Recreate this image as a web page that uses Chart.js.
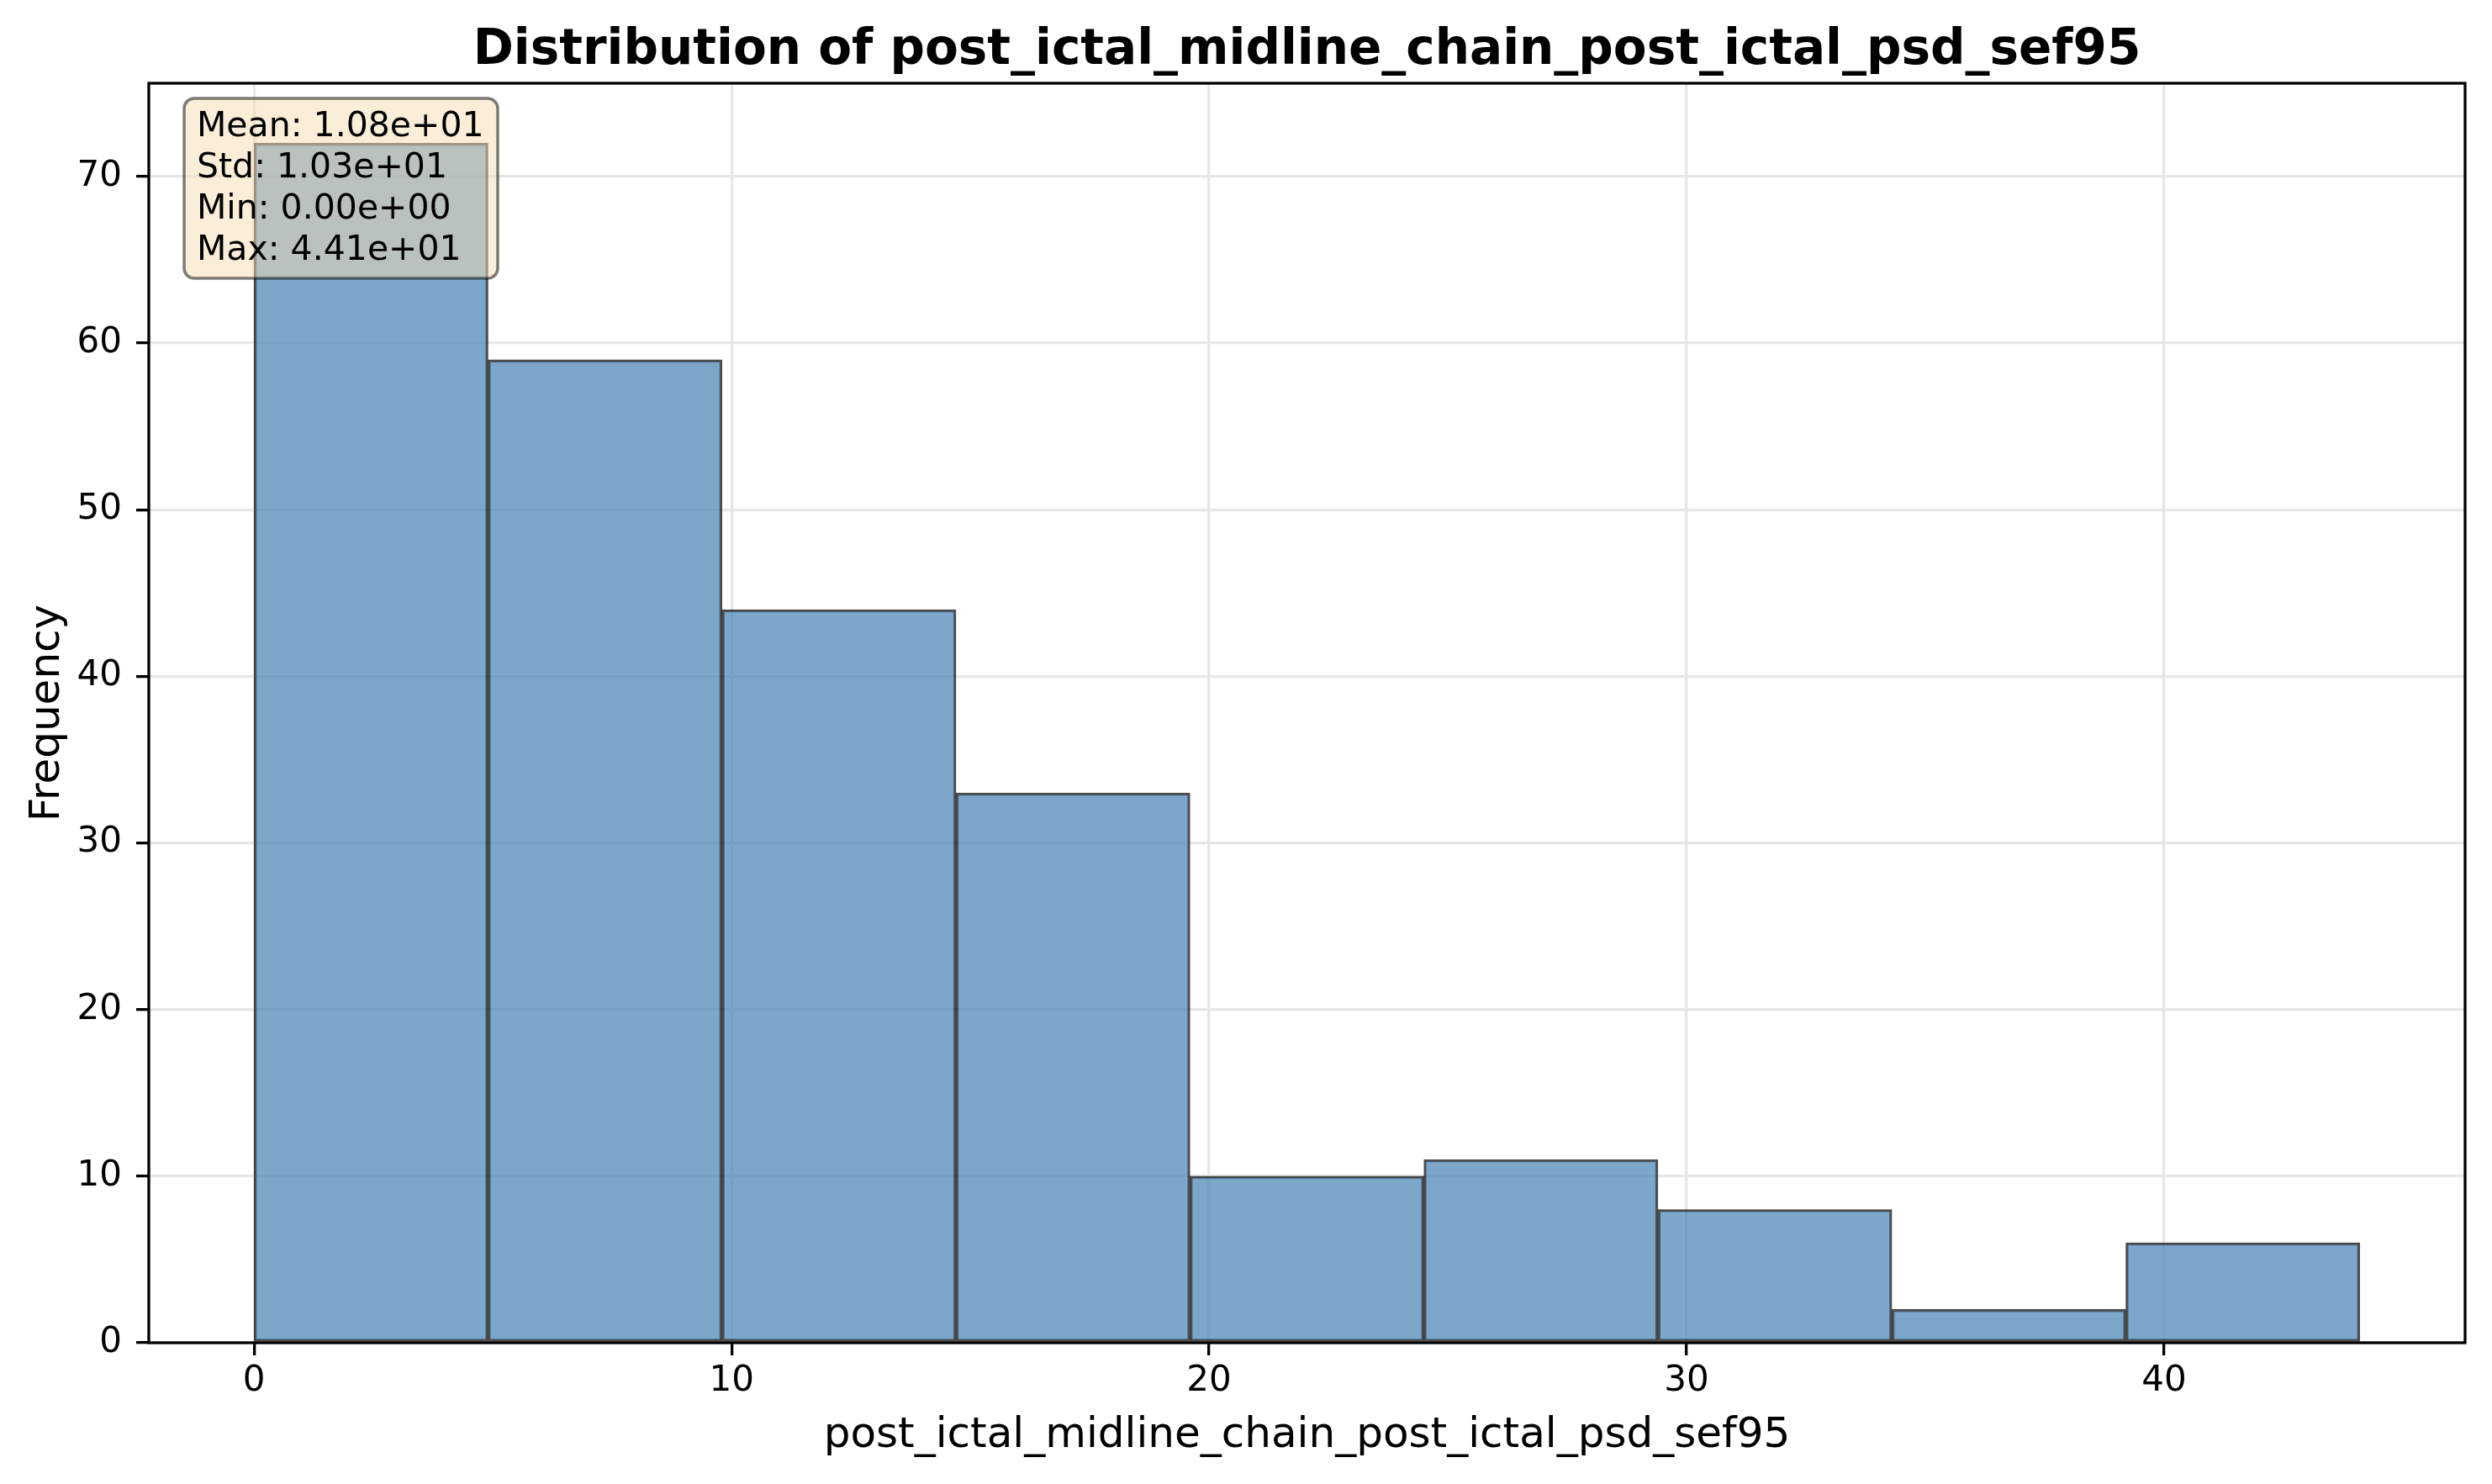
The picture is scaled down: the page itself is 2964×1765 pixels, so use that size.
<!DOCTYPE html>
<html lang="en">
<head>
  <meta charset="UTF-8">
  <title>Distribution of post_ictal_midline_chain_post_ictal_psd_sef95</title>
  <style>
    body {
      margin: 0;
      background-color: #ffffff;
    }
    canvas {
      display: block;
    }
  </style>
</head>
<body>

  <canvas id="histChart" width="2964" height="1765"></canvas>

  <script src="https://cdn.jsdelivr.net/npm/chart.js"></script>

  <script>
    // Histogram values
    const binEdges = [0, 4.9, 9.8, 14.7, 19.6, 24.5, 29.4, 34.3, 39.2, 44.1];
    const counts = [72, 59, 44, 33, 10, 11, 8, 2, 6];
    const xTicks = [0, 10, 20, 30, 40];
    const yTicks = [0, 10, 20, 30, 40, 50, 60, 70];
    const statsLines = ['Mean: 1.08e+01', 'Std: 1.03e+01', 'Min: 0.00e+00', 'Max: 4.41e+01'];

    const titleText = 'Distribution of post_ictal_midline_chain_post_ictal_psd_sef95';
    const xLabel = 'post_ictal_midline_chain_post_ictal_psd_sef95';
    const yLabel = 'Frequency';

    const FONT = "'DejaVu Sans', sans-serif";

    document.addEventListener('DOMContentLoaded', () => {
      // bars sit at the middle of each bin, width comes from the bin spacing
      const barData = counts.map((c, i) => ({ x: (binEdges[i] + binEdges[i + 1]) / 2, y: c }));

      const first = binEdges[0];
      const last = binEdges[binEdges.length - 1];
      const pad = (last - first) * 0.05;
      const yMax = Math.max(...counts) * 1.05;

      // spines on top of the bars, then the title (centred on the axes) and the stats box
      const framePlugin = {
        id: 'frame',
        afterDatasetsDraw(chart) {
          const { ctx, chartArea: a } = chart;
          ctx.save();
          ctx.strokeStyle = '#000';
          ctx.lineWidth = 3.3;
          ctx.strokeRect(a.left, a.top, a.right - a.left, a.bottom - a.top);
          ctx.restore();
        },
        afterDraw(chart) {
          const { ctx, chartArea: a } = chart;
          ctx.save();

          ctx.fillStyle = '#000';
          ctx.font = 'bold 58px ' + FONT;
          ctx.textAlign = 'center';
          ctx.textBaseline = 'alphabetic';
          ctx.fillText(titleText, (a.left + a.right) / 2, 76);

          ctx.beginPath();
          ctx.roundRect(219, 117, 373, 214, 12);
          ctx.fillStyle = 'rgba(245, 222, 179, 0.5)';
          ctx.fill();
          ctx.strokeStyle = 'rgba(0, 0, 0, 0.5)';
          ctx.lineWidth = 3.5;
          ctx.stroke();

          ctx.fillStyle = '#000';
          ctx.font = '41px ' + FONT;
          ctx.textAlign = 'left';
          statsLines.forEach((line, i) => {
            ctx.fillText(line, 234, 162 + i * 49);
          });
          ctx.restore();
        }
      };

      const ctx = document.getElementById('histChart').getContext('2d');
      new Chart(ctx, {
        type: 'bar',
        data: {
          datasets: [{
            data: barData,
            backgroundColor: 'rgba(70, 130, 180, 0.7)',
            borderColor: 'rgba(0, 0, 0, 0.7)',
            borderWidth: 2.8,
            borderSkipped: false,
            barPercentage: 1,
            categoryPercentage: 1
          }]
        },
        options: {
          responsive: false,
          devicePixelRatio: 1,
          animation: false,
          layout: {
            padding: { left: 0, right: 32, top: 99, bottom: 0 }
          },
          plugins: {
            legend: { display: false },
            tooltip: { enabled: false },
            title: { display: false }
          },
          scales: {
            x: {
              type: 'linear',
              min: first - pad,
              max: last + pad,
              offset: false,
              afterBuildTicks: scale => {
                scale.ticks = xTicks.map(v => ({ value: v }));
              },
              afterFit: scale => {
                scale.height = 168;
              },
              ticks: {
                color: '#000',
                font: { family: FONT, size: 42 },
                padding: 6,
                maxRotation: 0
              },
              grid: {
                offset: false,
                color: '#e7e7e7',
                lineWidth: 3.3,
                drawTicks: true,
                tickLength: 15,
                tickColor: '#000',
                tickWidth: 3.3
              },
              border: { display: false },
              title: {
                display: true,
                text: xLabel,
                color: '#000',
                font: { family: FONT, size: 50 },
                padding: { top: 0, bottom: 27 }
              }
            },
            y: {
              min: 0,
              max: yMax,
              afterBuildTicks: scale => {
                scale.ticks = yTicks.map(v => ({ value: v }));
              },
              afterFit: scale => {
                scale.width = 177;
              },
              ticks: {
                color: '#000',
                font: { family: FONT, size: 42 },
                padding: 17
              },
              grid: {
                color: '#e7e7e7',
                lineWidth: 3.3,
                drawTicks: true,
                tickLength: 15,
                tickColor: '#000',
                tickWidth: 3.3
              },
              border: { display: false },
              title: {
                display: true,
                text: yLabel,
                color: '#000',
                font: { family: FONT, size: 50 },
                padding: { top: 27, bottom: 0 }
              }
            }
          }
        },
        plugins: [framePlugin]
      });
    });
  </script>

</body>
</html>
